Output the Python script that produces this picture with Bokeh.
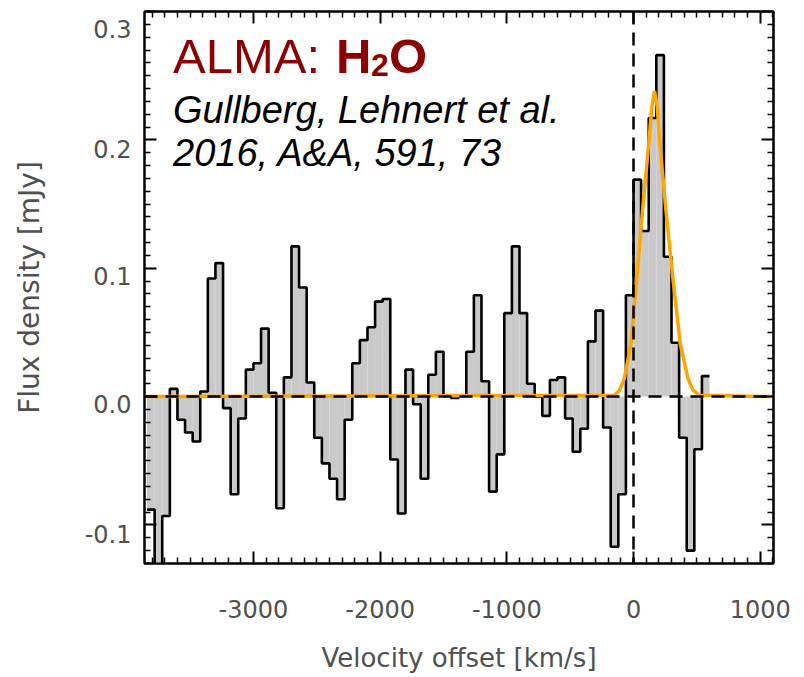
import numpy as np
from bokeh.plotting import figure
from bokeh.models import Range1d, FixedTicker, LinearAxis, Label, Span, CustomJSTickFormatter
from bokeh.embed import file_html
from bokeh.resources import INLINE

# ---- data ----
velocity = [
    -3810, -3750, -3690, -3630, -3570, -3510, -3450, -3390, -3330, -3270,
    -3210, -3150, -3090, -3030, -2970, -2910, -2850, -2790, -2730, -2670,
    -2610, -2550, -2490, -2430, -2370, -2310, -2250, -2190, -2130, -2070,
    -2010, -1950, -1890, -1830, -1770, -1710, -1650, -1590, -1530, -1470,
    -1410, -1350, -1290, -1230, -1170, -1110, -1050, -990, -930, -870,
    -810, -750, -690, -630, -570, -510, -450, -390, -330, -270,
    -210, -150, -90, -30, 30, 90, 150, 210, 270, 330,
    390, 450, 510, 570,
]
flux = [
    -0.088, -0.160, -0.093, 0.006, -0.018, -0.028, -0.035, 0.004, 0.092, 0.104,
    -0.009, -0.076, -0.017, 0.021, 0.026, 0.053, 0.003, -0.087, 0.015, 0.117,
    0.085, 0.011, -0.032, -0.052, -0.064, -0.080, -0.018, 0.026, 0.044, 0.054,
    0.074, 0.076, -0.049, -0.091, 0.021, -0.006, -0.064, 0.017, 0.035, 0.001,
    -0.001, 0.001, 0.035, 0.079, 0.012, -0.074, -0.045, 0.065, 0.117, 0.065,
    0.010, 0.000, -0.015, 0.013, 0.015, -0.017, -0.043, -0.025, 0.043, 0.067,
    -0.024, -0.117, -0.076, 0.079, 0.169, 0.129, 0.217, 0.266, 0.109, 0.042,
    -0.032, -0.120, -0.041, 0.016,
]
fit_velocity = [-3860, -150, -110, -73, -20, 26, 72, 121, 145, 166, 187, 207, 255, 310, 369, 430, 470, 520, 1105]
fit_flux = [0.0, 0.001, 0.005, 0.014, 0.041, 0.093, 0.146, 0.198, 0.226, 0.238, 0.226, 0.198, 0.146, 0.093, 0.041, 0.014, 0.005, 0.001, 0.0]

x_major = [-3000, -2000, -1000, 0, 1000]
x_minor = [-3800, -3700, -3600, -3500, -3400, -3300, -3200, -3100, -2900, -2800, -2700, -2600, -2500,
           -2400, -2300, -2200, -2100, -1900, -1800, -1700, -1600, -1500, -1400, -1300, -1200, -1100,
           -900, -800, -700, -600, -500, -400, -300, -200, -100, 100, 200, 300, 400, 500, 600, 700,
           800, 900, 1100]
y_major = [-0.1, 0.0, 0.1, 0.2, 0.3]
y_minor = [-0.13, -0.12, -0.11, -0.09, -0.08, -0.07, -0.06, -0.05, -0.04, -0.03, -0.02, -0.01,
           0.01, 0.02, 0.03, 0.04, 0.05, 0.06, 0.07, 0.08, 0.09, 0.11, 0.12, 0.13, 0.14, 0.15,
           0.16, 0.17, 0.18, 0.19, 0.21, 0.22, 0.23, 0.24, 0.25, 0.26, 0.27, 0.28, 0.29]
# where the y tick labels sit (they are drawn a little below their ticks in the original)
y_label_pos = [-0.107, -0.006, 0.094, 0.193, 0.286]

x_start, x_end = -3860, 1105
y_start, y_end = -0.13, 0.30

# ---- derived geometry ----
v = np.array(velocity, dtype=float)
f = np.array(flux, dtype=float)
half = (v[1] - v[0]) / 2.0
left = v - half
right = v + half
step_x = np.column_stack([left, right]).ravel()
step_y = np.column_stack([f, f]).ravel()

p = figure(width=800, height=675,
           x_range=Range1d(x_start, x_end), y_range=Range1d(y_start, y_end),
           output_backend="svg", toolbar_location=None,
           min_border_left=144, min_border_right=27, min_border_top=11, min_border_bottom=106)
p.xgrid.visible = False
p.ygrid.visible = False
p.outline_line_color = "black"
p.outline_line_width = 2
p.background_fill_color = "white"
p.border_fill_color = "white"

# histogram fill + outline
p.quad(left=left, right=right, bottom=0, top=f, fill_color="#c9c9c9", line_color=None)
p.line(step_x, step_y, line_color="black", line_width=2.6)
# gaussian fit
p.line(fit_velocity, fit_flux, line_color="#FFA500", line_width=3.5)

# dashed reference lines
p.add_layout(Span(location=0, dimension="width", line_color="black", line_width=2.5, line_dash="13 8"))
p.add_layout(Span(location=0, dimension="height", line_color="black", line_width=2.5, line_dash="13 8"))

tick_color = "#505050"
label_font = "DejaVu Sans"

xt = FixedTicker(ticks=x_major, minor_ticks=x_minor)
yt = FixedTicker(ticks=y_major, minor_ticks=y_minor)
blank = CustomJSTickFormatter(code="return '';")

def style_axis(ax):
    ax.axis_line_width = 2
    ax.axis_line_color = "black"
    ax.major_tick_in = 12
    ax.major_tick_out = 0
    ax.minor_tick_in = 6
    ax.minor_tick_out = 0
    ax.major_tick_line_width = 2
    ax.minor_tick_line_width = 1.5
    ax.major_tick_line_color = "black"
    ax.minor_tick_line_color = "black"

xa = p.xaxis[0]
xa.ticker = xt
xa.formatter = CustomJSTickFormatter(code="return tick.toFixed(0);")
style_axis(xa)
xa.major_label_text_font = label_font
xa.major_label_text_font_size = "24px"
xa.major_label_text_color = tick_color
xa.major_label_standoff = 36
xa.axis_label = "Velocity offset [km/s]"
xa.axis_label_text_font = label_font
xa.axis_label_text_font_size = "26px"
xa.axis_label_text_font_style = "normal"
xa.axis_label_text_color = tick_color
xa.axis_label_standoff = 22

# inner left axis: line and ticks only
ya = p.yaxis[0]
ya.ticker = yt
ya.formatter = blank
style_axis(ya)
ya.major_label_standoff = 0
ya.major_label_text_font_size = "0px"

# outer left axis: tick labels and title only
yl = LinearAxis(ticker=FixedTicker(ticks=y_label_pos, minor_ticks=[]),
                formatter=CustomJSTickFormatter(code="return (Math.round(tick*10)/10).toFixed(1);"))
yl.axis_line_color = None
yl.major_tick_line_color = None
yl.minor_tick_line_color = None
yl.major_tick_in = 0
yl.major_tick_out = 0
yl.minor_tick_in = 0
yl.minor_tick_out = 0
yl.major_label_text_font = label_font
yl.major_label_text_font_size = "24px"
yl.major_label_text_color = tick_color
yl.major_label_standoff = 13
yl.axis_label = "Flux density [mJy]"
yl.axis_label_text_font = label_font
yl.axis_label_text_font_size = "28px"
yl.axis_label_text_font_style = "normal"
yl.axis_label_text_color = tick_color
yl.axis_label_standoff = 36
p.add_layout(yl, "left")

top = LinearAxis(ticker=xt, formatter=blank, major_label_standoff=0, major_label_text_font_size="0px")
style_axis(top)
p.add_layout(top, "above")
rgt = LinearAxis(ticker=yt, formatter=blank, major_label_standoff=0, major_label_text_font_size="0px")
style_axis(rgt)
p.add_layout(rgt, "right")

# annotations
red = "#8B0000"
ax_x = -3635
alma_y = 0.265
p.add_layout(Label(x=ax_x, y=alma_y, text="ALMA:", text_font="Liberation Sans",
                   text_font_size="49px", text_color=red, text_baseline="alphabetic"))
p.add_layout(Label(x=ax_x, y=alma_y, x_offset=163, text="H", text_font="Liberation Sans",
                   text_font_size="49px", text_font_style="bold", text_color=red,
                   text_baseline="alphabetic"))
p.add_layout(Label(x=ax_x, y=alma_y, x_offset=198, y_offset=-9, text="2", text_font="Liberation Sans",
                   text_font_size="32px", text_font_style="bold", text_color=red,
                   text_baseline="alphabetic"))
p.add_layout(Label(x=ax_x, y=alma_y, x_offset=216, text="O", text_font="Liberation Sans",
                   text_font_size="49px", text_font_style="bold", text_color=red,
                   text_baseline="alphabetic"))
p.add_layout(Label(x=ax_x, y=0.2235, text="Gullberg, Lehnert et al.", text_font="Liberation Sans",
                   text_font_size="38px", text_font_style="italic", text_color="black",
                   text_baseline="alphabetic"))
p.add_layout(Label(x=ax_x, y=0.1895, text="2016, A&A, 591, 73", text_font="Liberation Sans",
                   text_font_size="38px", text_font_style="italic", text_color="black",
                   text_baseline="alphabetic"))

open("out.html", "w").write(file_html(p, INLINE))
